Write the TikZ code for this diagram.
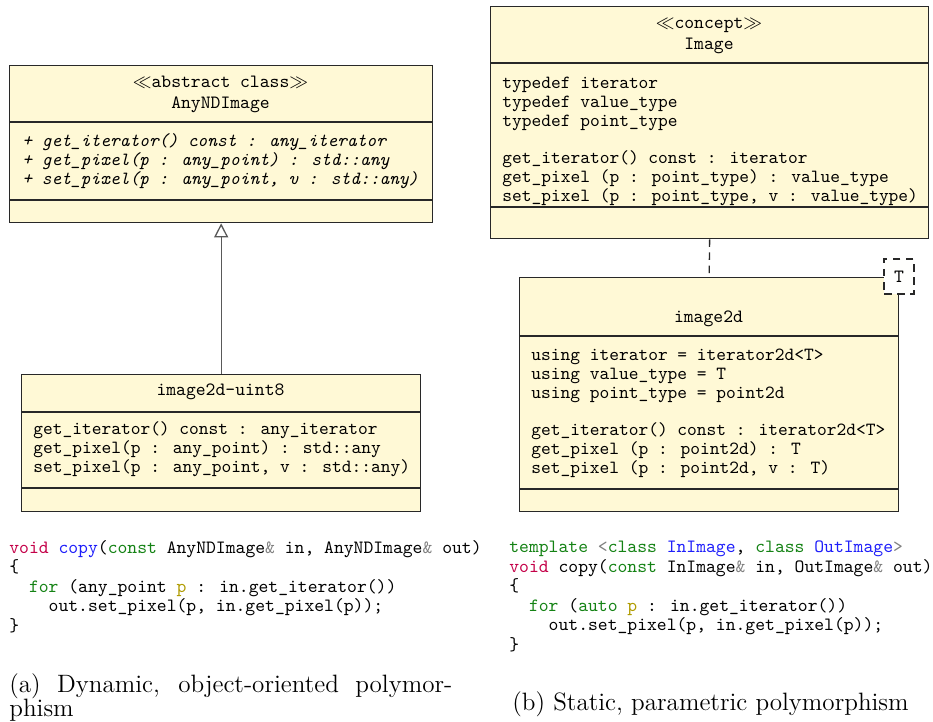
\documentclass[tikz,border=0pt]{standalone}
\usepackage{fontspec}
\usetikzlibrary{arrows.meta}
\definecolor{boxfill}{RGB}{255,249,214}
\definecolor{boxline}{RGB}{40,40,40}
\definecolor{kwred}{RGB}{196,0,72}
\definecolor{kwblue}{RGB}{30,30,250}
\definecolor{kwgreen}{RGB}{20,130,20}
\definecolor{kwgray}{RGB}{128,128,128}
\definecolor{kwolive}{RGB}{175,155,0}
\newcommand\kR[1]{\textcolor{kwred}{#1}}
\newcommand\kB[1]{\textcolor{kwblue}{#1}}
\newcommand\kG[1]{\textcolor{kwgreen}{#1}}
\newcommand\kY[1]{\textcolor{kwgray}{#1}}
\newcommand\kO[1]{\textcolor{kwolive}{#1}}
\begin{document}
\begin{tikzpicture}[x=0.5336pt,y=-0.5336pt,
  cls/.style={draw=boxline, fill=boxfill, line width=0.7pt, inner sep=0pt, anchor=north west},
  divider/.style={draw=boxline, line width=0.7pt},
  mono/.style={font=\fontsize{9.9}{10.1}\selectfont\ttfamily, inner sep=0pt, align=left},
  title/.style={font=\fontsize{10}{10.7}\selectfont\ttfamily, inner sep=0pt, align=center},
  code/.style={font=\fontsize{10}{10.4}\selectfont\ttfamily, inner sep=0pt, align=left},
  capt/.style={font=\fontsize{13.4}{13.2}\selectfont, inner sep=0pt},
  gen/.style={draw=black!65, line width=0.7pt, -{Triangle[open,length=7.5pt,width=7.5pt,fill=white]}},
  realize/.style={draw=boxline, line width=0.7pt, dash pattern=on 4pt off 3pt},
  tbox/.style={draw=boxline, line width=0.7pt, dash pattern=on 4pt off 3pt, fill=white!96!boxfill,
    minimum width={30*0.5336pt}, minimum height={35*0.5336pt}, inner sep=0pt,
    font=\fontsize{10}{10}\selectfont\ttfamily}
]
\useasboundingbox (0,0) rectangle (933,721);

% ---------- (a) AnyNDImage ----------
\node[cls, minimum width={423*0.5336pt}, minimum height={157*0.5336pt}] (anyimg) at (9,65) {};
\draw[divider] (9,122) -- (432,122);
\draw[divider] (9,200) -- (432,200);
\node[title, anchor=base] (anyimgT) at (220.5,108) {$\ll$abstract class$\gg$\\AnyNDImage};
\node[mono, anchor=base west, font=\fontsize{9.9}{10.1}\selectfont\ttfamily\itshape] (anyimgM) at (22,184)
  {+ get\_iterator() const : any\_iterator\\+ get\_pixel(p : any\_point) : std::any\\+ set\_pixel(p : any\_point, v : std::any)};

% ---------- image2d-uint8 ----------
\node[cls, minimum width={399*0.5336pt}, minimum height={137*0.5336pt}] (img8) at (21,374) {};
\draw[divider] (21,412) -- (420,412);
\draw[divider] (21,488) -- (420,488);
\node[title, anchor=base] (img8T) at (220.5,395) {image2d-uint8};
\node[mono, anchor=base west] (img8M) at (33,472)
  {get\_iterator() const : any\_iterator\\get\_pixel(p : any\_point) : std::any\\set\_pixel(p : any\_point, v : std::any)};

\draw[gen] (img8.north) -- (anyimg.south);

% ---------- (b) Image concept ----------
\node[cls, minimum width={438*0.5336pt}, minimum height={232*0.5336pt}] (concept) at (490,6) {};
\draw[divider] (490,63) -- (928,63);
\draw[divider] (490,207) -- (928,207);
\node[title, anchor=base] (conceptT) at (709,49) {$\ll$concept$\gg$\\Image};
\node[mono, anchor=base west] (conceptF) at (502,126)
  {typedef iterator\\typedef value\_type\\typedef point\_type};
\node[mono, anchor=base west] (conceptM) at (502,201)
  {get\_iterator() const : iterator\\get\_pixel (p : point\_type) : value\_type\\set\_pixel (p : point\_type, v : value\_type)};

% ---------- image2d ----------
\node[cls, minimum width={379*0.5336pt}, minimum height={234*0.5336pt}] (img2d) at (519,277) {};
\draw[divider] (519,336) -- (898,336);
\draw[divider] (519,489) -- (898,489);
\node[title, anchor=base] (img2dT) at (708.5,322) {image2d};
\node[mono, anchor=base west] (img2dF) at (531,398)
  {using iterator = iterator2d<T>\\using value\_type = T\\using point\_type = point2d};
\node[mono, anchor=base west] (img2dM) at (531,473)
  {get\_iterator() const : iterator2d<T>\\get\_pixel (p : point2d) : T\\set\_pixel (p : point2d, v : T)};
\node[tbox] (tparam) at (899,276.5) {T};

\draw[realize] (concept.south) -- (img2d.north);

% ---------- code (a) ----------
\node[code, anchor=base west] (codeA) at (9,631)
  {\kR{void} \kB{copy}(\kG{const} AnyNDImage\kY{\&} in, AnyNDImage\kY{\&} out)\\
   \{\\
   \phantom{xx}\kG{for} (any\_point \kO{p} : in.get\_iterator())\\
   \phantom{xxxx}out.set\_pixel(p, in.get\_pixel(p));\\
   \}};

% ---------- code (b) ----------
\node[code, anchor=base west] (codeB) at (509,650)
  {\kG{template} \kY{<}\kG{class} \kB{InImage}, \kG{class} \kB{OutImage}\kY{>}\\
   \kR{void} copy(\kG{const} InImage\kY{\&} in, OutImage\kY{\&} out)\\
   \{\\
   \phantom{xx}\kG{for} (\kG{auto} \kO{p} : in.get\_iterator())\\
   \phantom{xxxx}out.set\_pixel(p, in.get\_pixel(p));\\
   \}};

% ---------- captions ----------
\node[capt, anchor=base west, text width={443*0.5336pt}, align=justify] (captA) at (9,692)
  {(a) Dynamic, object-oriented polymor-\linebreak phism};
\node[capt, anchor=base] (captB) at (710.5,710) {(b) Static, parametric polymorphism};
\end{tikzpicture}
\end{document}
